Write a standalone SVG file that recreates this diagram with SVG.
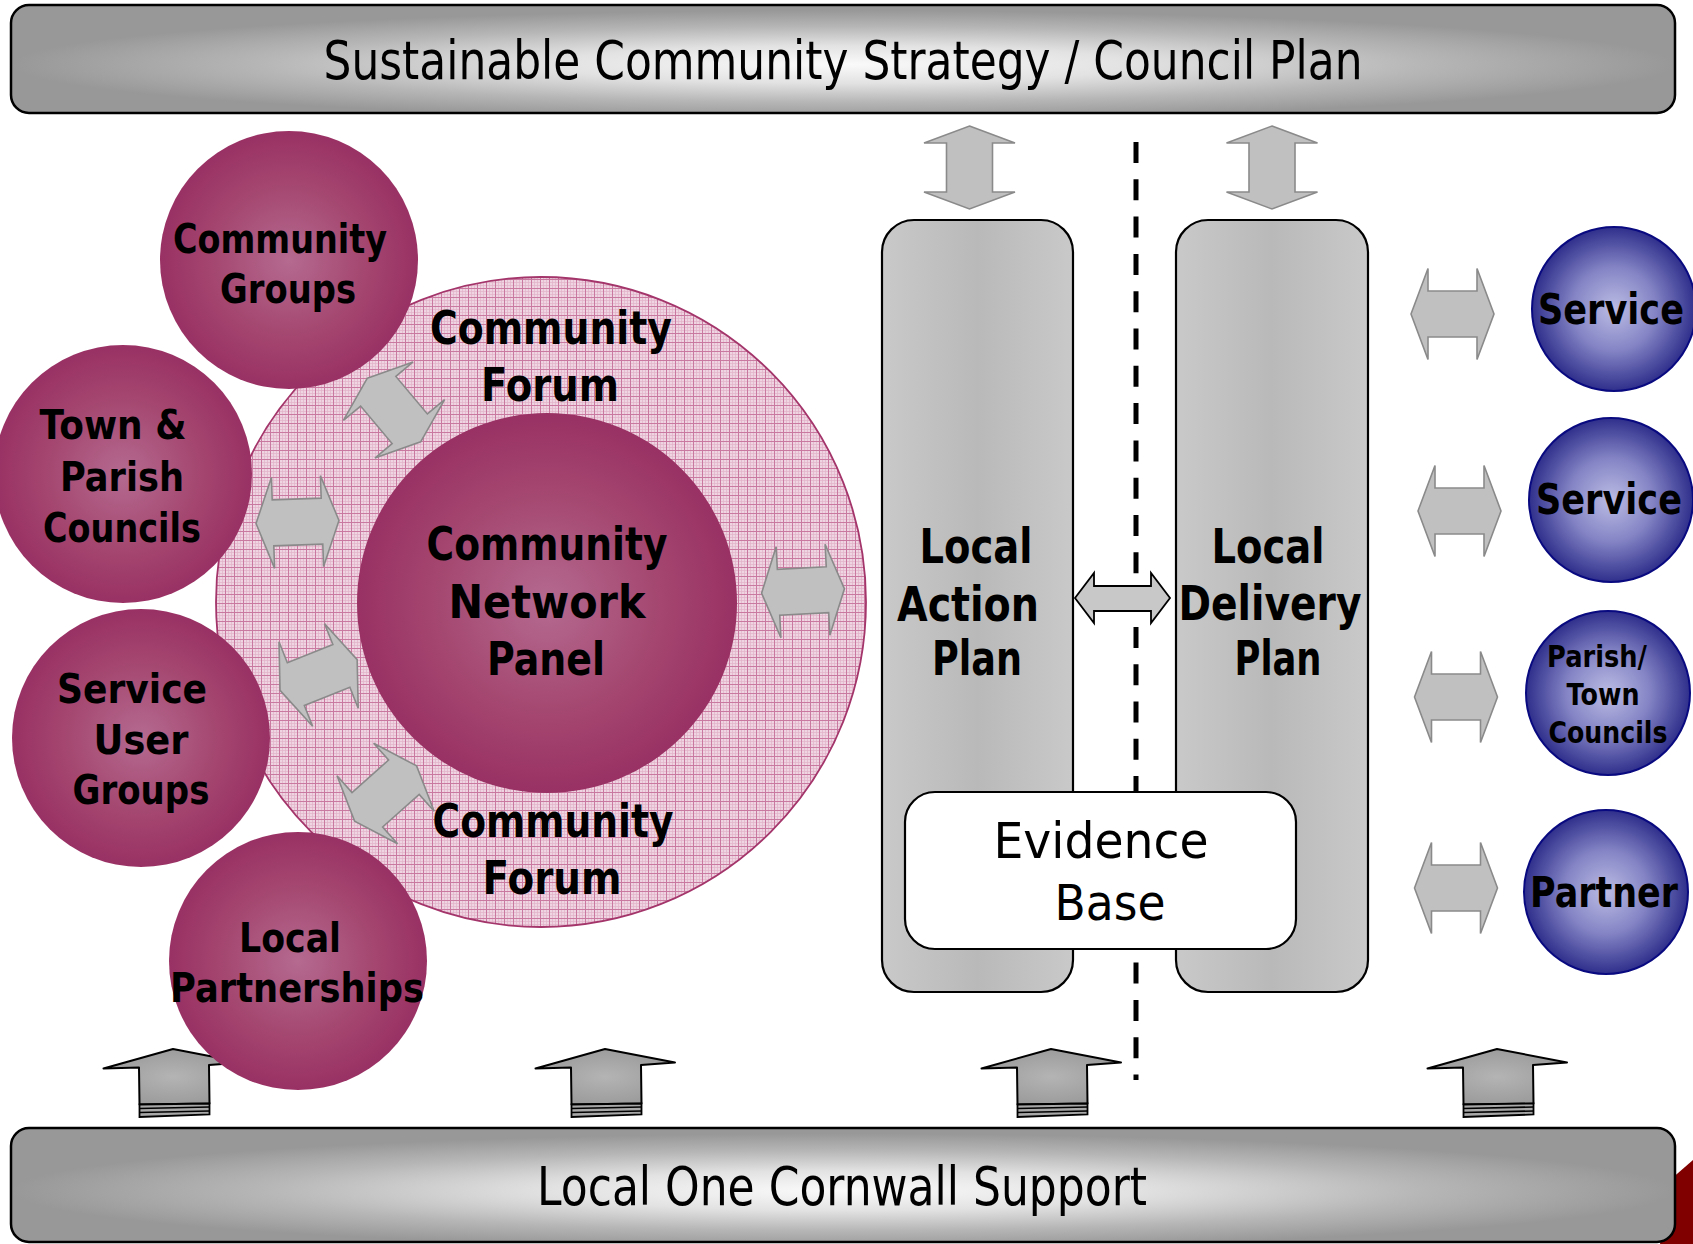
<svg xmlns="http://www.w3.org/2000/svg" xmlns:xlink="http://www.w3.org/1999/xlink" width="1693" height="1244" viewBox="0 0 1693 1244">
<defs>
  <radialGradient id="barGrad" cx="0.5" cy="0.55" r="0.5">
    <stop offset="0" stop-color="#fafafa"/>
    <stop offset="0.35" stop-color="#e2e2e2"/>
    <stop offset="0.7" stop-color="#b6b6b6"/>
    <stop offset="1" stop-color="#989898"/>
  </radialGradient>
  <linearGradient id="colGrad" x1="0" y1="0" x2="1" y2="0">
    <stop offset="0" stop-color="#c9c9c9"/>
    <stop offset="0.5" stop-color="#b9b9b9"/>
    <stop offset="1" stop-color="#c9c9c9"/>
  </linearGradient>
  <radialGradient id="maroon" cx="0.5" cy="0.5" r="0.5">
    <stop offset="0" stop-color="#b56a90"/>
    <stop offset="0.6" stop-color="#a4466f"/>
    <stop offset="1" stop-color="#993164"/>
  </radialGradient>
  <radialGradient id="blue" cx="0.5" cy="0.5" r="0.5">
    <stop offset="0" stop-color="#bcbce4"/>
    <stop offset="0.5" stop-color="#8585c6"/>
    <stop offset="1" stop-color="#2f2f8c"/>
  </radialGradient>
  <radialGradient id="upGrad" cx="0.5" cy="0.5" r="0.6">
    <stop offset="0" stop-color="#b4b4b4"/>
    <stop offset="1" stop-color="#979797"/>
  </radialGradient>
  <pattern id="hatch" width="9" height="9" patternUnits="userSpaceOnUse">
    <rect width="9" height="9" fill="#eed5e1"/>
    <path d="M0 3.5H9M0 6.5H9M3.5 0V9M6.5 0V9" stroke="#e2b3c9" stroke-width="0.7"/>
    <path d="M0 0.5H9M0.5 0V9" stroke="#c9799f" stroke-width="1"/>
  </pattern>
  <path id="dbl" d="M-41.5 0 L-24.5 -45.5 L-24.5 -23 L24.5 -23 L24.5 -45.5 L41.5 0 L24.5 45.5 L24.5 23 L-24.5 23 L-24.5 45.5 Z"/>
  <g id="up">
    <path d="M0 1049 L70 1062.5 L36 1065 L36.5 1103.5 L-33.5 1104.5 L-34 1067.5 L-69.5 1068.5 Z" fill="url(#upGrad)" stroke="#000" stroke-width="2" stroke-linejoin="round"/>
    <path d="M-33.5 1104.5 L36.5 1103.5 L36.5 1114.5 L-33.5 1117 Z" fill="#a8a8a8" stroke="#000" stroke-width="1.8"/>
    <path d="M-33.5 1108.5 L36.5 1107 M-33.5 1112.5 L36.5 1111" stroke="#000" stroke-width="1.6" fill="none"/>
  </g>
  <style>
    .bar { fill: url(#barGrad); stroke: #000; stroke-width: 2.5; }
    .bartext { font-family: "DejaVu Sans", "Liberation Sans", sans-serif; font-size: 54px; fill: #000; text-anchor: middle; }
    .col { fill: url(#colGrad); stroke: #000; stroke-width: 2.2; }
    .mc { fill: url(#maroon); }
    .bc { fill: url(#blue); stroke: #0a0a80; stroke-width: 2; }
    .lbl { font-family: "DejaVu Sans", "Liberation Sans", sans-serif; font-weight: bold; fill: #000; text-anchor: middle; }
    .s38 { font-size: 41px; }
    .s44 { font-size: 47px; }
    .s46 { font-size: 48px; }
    .s40 { font-size: 42px; }
    .s30 { font-size: 31px; }
    .ev { font-family: "DejaVu Sans", "Liberation Sans", sans-serif; font-size: 50px; fill: #000; text-anchor: middle; }
    .ga { fill: #c0c0c0; stroke: #8a8a8a; stroke-width: 1.6; stroke-linejoin: miter; }
  </style>
</defs>
<rect width="1693" height="1244" fill="#ffffff"/>
<polygon points="1670,1180 1693,1160 1693,1244 1660,1244" fill="#800000"/>

<g id="node-strategy">
  <rect class="bar" x="11" y="5" width="1664" height="108" rx="18"/>
  <text class="bartext" x="843" y="79" textLength="1039" lengthAdjust="spacingAndGlyphs">Sustainable Community Strategy / Council Plan</text>
</g>
<g id="node-support">
  <rect class="bar" x="11" y="1128" width="1664" height="114" rx="18"/>
  <text class="bartext" x="842" y="1205" textLength="610" lengthAdjust="spacingAndGlyphs">Local One Cornwall Support</text>
</g>

<line id="divider" x1="1136" y1="142" x2="1136" y2="1080" stroke="#000" stroke-width="5" stroke-dasharray="21 16.3"/>

<g id="node-lap">
  <rect class="col" x="882" y="220" width="191" height="772" rx="32"/>
  <text class="lbl s46" x="976" y="563" textLength="113" lengthAdjust="spacingAndGlyphs">Local</text>
  <text class="lbl s46" x="968" y="621" textLength="142" lengthAdjust="spacingAndGlyphs">Action</text>
  <text class="lbl s46" x="977" y="675" textLength="90" lengthAdjust="spacingAndGlyphs">Plan</text>
</g>
<g id="node-ldp">
  <rect class="col" x="1176" y="220" width="192" height="772" rx="32"/>
  <text class="lbl s46" x="1268" y="563" textLength="113" lengthAdjust="spacingAndGlyphs">Local</text>
  <text class="lbl s46" x="1270" y="620" textLength="183" lengthAdjust="spacingAndGlyphs">Delivery</text>
  <text class="lbl s46" x="1278" y="675" textLength="87" lengthAdjust="spacingAndGlyphs">Plan</text>
</g>
<g id="node-evidence">
  <rect x="905" y="792" width="391" height="157" rx="30" fill="#ffffff" stroke="#000" stroke-width="2.2"/>
  <text class="ev" x="1101" y="858" textLength="215" lengthAdjust="spacingAndGlyphs">Evidence</text>
  <text class="ev" x="1110" y="920" textLength="111" lengthAdjust="spacingAndGlyphs">Base</text>
</g>

<g id="node-forum">
  <circle cx="541" cy="602" r="325" fill="url(#hatch)" stroke="#a3356b" stroke-width="1.8"/>
  <text class="lbl s44" x="551" y="344" textLength="242" lengthAdjust="spacingAndGlyphs">Community</text>
  <text class="lbl s44" x="550" y="401" textLength="138" lengthAdjust="spacingAndGlyphs">Forum</text>
  <text class="lbl s44" x="553" y="837" textLength="241" lengthAdjust="spacingAndGlyphs">Community</text>
  <text class="lbl s44" x="552" y="894" textLength="139" lengthAdjust="spacingAndGlyphs">Forum</text>
</g>
<g id="node-panel">
  <circle class="mc" cx="547" cy="603" r="190"/>
  <text class="lbl s44" x="547" y="560" textLength="241" lengthAdjust="spacingAndGlyphs">Community</text>
  <text class="lbl s44" x="547" y="618" textLength="197" lengthAdjust="spacingAndGlyphs">Network</text>
  <text class="lbl s44" x="546" y="675" textLength="118" lengthAdjust="spacingAndGlyphs">Panel</text>
</g>

<g id="connectors">
  <use href="#dbl" class="ga" transform="translate(297.5,522) rotate(-2)"/>
  <use href="#dbl" class="ga" transform="translate(394,410) rotate(50)"/>
  <use href="#dbl" class="ga" transform="translate(318.6,675) rotate(-21.7)"/>
  <use href="#dbl" class="ga" transform="translate(385.6,793.5) rotate(-41.7)"/>
  <use href="#dbl" class="ga" transform="translate(803,591) rotate(-3)"/>
  <use href="#dbl" class="ga" transform="translate(969.5,167.5) rotate(90)"/>
  <use href="#dbl" class="ga" transform="translate(1272,167.5) rotate(90)"/>
  <use href="#dbl" class="ga" transform="translate(1452.5,314)"/>
  <use href="#dbl" class="ga" transform="translate(1459.5,511)"/>
  <use href="#dbl" class="ga" transform="translate(1456,697)"/>
  <use href="#dbl" class="ga" transform="translate(1456,888)"/>
  <path d="M1075 598 L1094 573 L1094 586 L1151 586 L1151 573 L1170 598 L1151 623 L1151 611 L1094 611 L1094 623 Z" fill="#c8c8c8" stroke="#000" stroke-width="1.8"/>
  <use href="#up" transform="translate(173,0)"/>
  <use href="#up" transform="translate(605,0)"/>
  <use href="#up" transform="translate(1051,0)"/>
  <use href="#up" transform="translate(1497,0)"/>
</g>

<g id="node-community-groups">
  <circle class="mc" cx="289" cy="260" r="129"/>
  <text class="lbl s38" x="280" y="253" textLength="214" lengthAdjust="spacingAndGlyphs">Community</text>
  <text class="lbl s38" x="288" y="303" textLength="136" lengthAdjust="spacingAndGlyphs">Groups</text>
</g>
<g id="node-town-parish">
  <circle class="mc" cx="123" cy="474" r="129"/>
  <text class="lbl s38" x="113" y="439" textLength="147" lengthAdjust="spacingAndGlyphs">Town &amp;</text>
  <text class="lbl s38" x="122" y="491" textLength="124" lengthAdjust="spacingAndGlyphs">Parish</text>
  <text class="lbl s38" x="122" y="542" textLength="158" lengthAdjust="spacingAndGlyphs">Councils</text>
</g>
<g id="node-service-user">
  <circle class="mc" cx="141" cy="738" r="129"/>
  <text class="lbl s38" x="132" y="703" textLength="150" lengthAdjust="spacingAndGlyphs">Service</text>
  <text class="lbl s38" x="141" y="754" textLength="95" lengthAdjust="spacingAndGlyphs">User</text>
  <text class="lbl s38" x="141" y="804" textLength="137" lengthAdjust="spacingAndGlyphs">Groups</text>
</g>
<g id="node-local-partnerships">
  <circle class="mc" cx="298" cy="961" r="129"/>
  <text class="lbl s38" x="290" y="952" textLength="102" lengthAdjust="spacingAndGlyphs">Local</text>
  <text class="lbl s38" x="297" y="1002" textLength="254" lengthAdjust="spacingAndGlyphs">Partnerships</text>
</g>

<g id="node-service-1">
  <circle class="bc" cx="1614" cy="309" r="82"/>
  <text class="lbl s40" x="1611" y="324" textLength="146" lengthAdjust="spacingAndGlyphs">Service</text>
</g>
<g id="node-service-2">
  <circle class="bc" cx="1611" cy="500" r="82"/>
  <text class="lbl s40" x="1609" y="514" textLength="146" lengthAdjust="spacingAndGlyphs">Service</text>
</g>
<g id="node-parish-town">
  <circle class="bc" cx="1608" cy="693" r="82"/>
  <text class="lbl s30" x="1597" y="667" textLength="100" lengthAdjust="spacingAndGlyphs">Parish/</text>
  <text class="lbl s30" x="1603" y="705" textLength="73" lengthAdjust="spacingAndGlyphs">Town</text>
  <text class="lbl s30" x="1608" y="743" textLength="119" lengthAdjust="spacingAndGlyphs">Councils</text>
</g>
<g id="node-partner">
  <circle class="bc" cx="1606" cy="892" r="82"/>
  <text class="lbl s40" x="1604" y="907" textLength="148" lengthAdjust="spacingAndGlyphs">Partner</text>
</g>
</svg>
